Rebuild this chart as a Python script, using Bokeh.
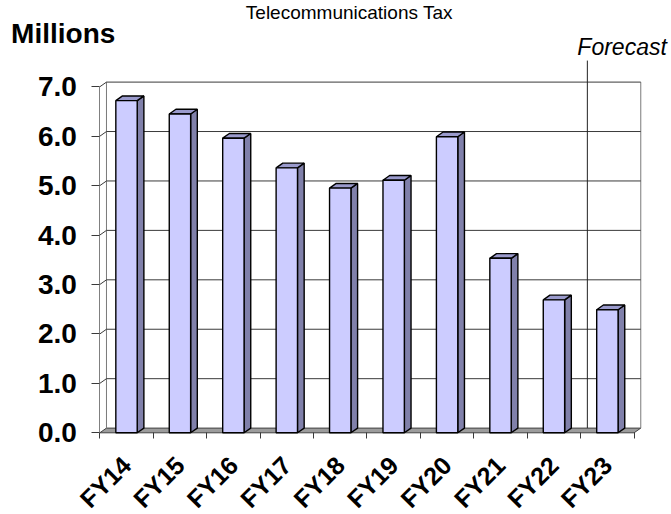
from math import pi
from bokeh.plotting import figure
from bokeh.models import Range1d, FixedTicker, PrintfTickFormatter, Label
from bokeh.embed import file_html
from bokeh.resources import INLINE

# ---- data ----
categories = ["FY14", "FY15", "FY16", "FY17", "FY18", "FY19", "FY20", "FY21", "FY22", "FY23"]
values = [6.72, 6.45, 5.96, 5.36, 4.95, 5.11, 5.99, 3.53, 2.69, 2.49]
y_ticks = [0, 1, 2, 3, 4, 5, 6, 7]
forecast_from = "FY23"
title_text = "Telecommunications Tax"
unit_text = "Millions"
forecast_text = "Forecast"

# ---- layout / style ----
W, H = 671, 514
ORIGIN_X, ORIGIN_Y = 99.3, 432.3     # pixel position of the (0, 0) corner
PX_X, PX_Y = 53.43, 49.43            # pixels per unit
DX, DY = 0.125, 0.095                # 3-D depth offsets (data units)
BAR_W = 0.4
FONT = "Liberation Sans"

n = len(categories)
centers = [i + 0.5 for i in range(n)]
y_top = y_ticks[-1]

p = figure(width=W, height=H, title=None, toolbar_location=None, output_backend="svg",
           x_range=Range1d(-ORIGIN_X / PX_X, (W - ORIGIN_X) / PX_X),
           y_range=Range1d(-(H - ORIGIN_Y) / PX_Y, ORIGIN_Y / PX_Y),
           min_border=0)
p.outline_line_color = None
p.xgrid.visible = False
p.ygrid.visible = False
p.background_fill_color = "white"
p.border_fill_color = "white"

# floor
p.patch([0, n, n + DX, DX], [0, 0, DY, DY], fill_color="#9c9c9c",
        line_color="#404040", line_width=1)

# back wall edges
p.segment(x0=[DX, n + DX], y0=[DY, DY], x1=[DX, n + DX], y1=[y_top + DY, y_top + DY],
          line_color="#7a7a7a", line_width=1)

# gridlines (tick -> left wall diagonal -> back wall)
gx, gy = [], []
for v in y_ticks[1:]:
    gx.append([0, DX, n + DX])
    gy.append([v, v + DY, v + DY])
p.multi_line(gx, gy, line_color="#3a3a3a", line_width=1)

# forecast divider
fi = categories.index(forecast_from)
fc_top = 7.53
p.segment(x0=[fi + DX], y0=[DY], x1=[fi + DX], y1=[fc_top], line_color="#222222", line_width=1)

# bars: side faces, top faces, front faces
side_x, side_y, top_x, top_y = [], [], [], []
for c, v in zip(centers, values):
    r = c + BAR_W / 2
    l = c - BAR_W / 2
    side_x.append([r, r + DX, r + DX, r])
    side_y.append([0, DY, v + DY, v])
    top_x.append([l, r, r + DX, l + DX])
    top_y.append([v, v, v + DY, v + DY])
p.patches(side_x, side_y, fill_color="#8080aa", line_color="black", line_width=1.4)
p.patches(top_x, top_y, fill_color="#9a9acc", line_color="black", line_width=1.4)
p.vbar(x=centers, width=BAR_W, bottom=0, top=values, fill_color="#ccccff",
       line_color="black", line_width=1.4)

# y axis (placed at x = 0)
ya = p.yaxis[0]
ya.fixed_location = 0
ya.ticker = FixedTicker(ticks=y_ticks)
ya.formatter = PrintfTickFormatter(format="%.1f")
ya.bounds = (0, y_top)
ya.axis_line_color = "#808080"
ya.major_tick_out = 8
ya.major_tick_in = 0
ya.major_tick_line_color = "#3a3a3a"
ya.minor_tick_line_color = None
ya.major_label_standoff = 15
ya.major_label_text_font = FONT
ya.major_label_text_font_style = "bold"
ya.major_label_text_font_size = "28px"
ya.major_label_text_color = "black"

# x axis (placed at y = 0)
xa = p.xaxis[0]
xa.fixed_location = 0
xa.ticker = FixedTicker(ticks=centers, minor_ticks=list(range(n + 1)))
xa.major_label_overrides = {c: cat for c, cat in zip(centers, categories)}
xa.major_label_orientation = pi / 4
xa.axis_line_color = None
xa.major_tick_line_color = None
xa.major_tick_out = 0
xa.major_tick_in = 0
xa.minor_tick_line_color = "#3a3a3a"
xa.minor_tick_out = 6
xa.minor_tick_in = 0
xa.major_label_standoff = 22
xa.major_label_text_font = FONT
xa.major_label_text_font_style = "bold"
xa.major_label_text_font_size = "25px"
xa.major_label_text_color = "black"

# texts
p.add_layout(Label(x=4.67, y=8.30, text=title_text, text_align="center",
                   text_font=FONT, text_font_size="19px", text_color="black"))
p.add_layout(Label(x=-1.66, y=7.76, text=unit_text, text_align="left",
                   text_font=FONT, text_font_size="28px", text_font_style="bold",
                   text_color="black"))
p.add_layout(Label(x=fi + DX, y=7.55, x_offset=-10, text=forecast_text, text_align="left",
                   text_font=FONT, text_font_size="23px", text_font_style="italic",
                   text_color="black"))

open("out.html", "w").write(file_html(p, INLINE))
